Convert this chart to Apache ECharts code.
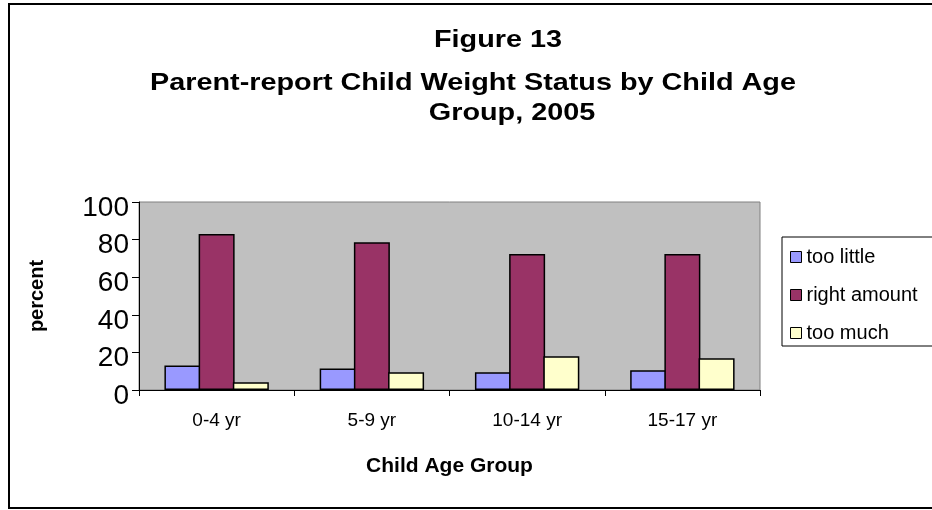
<!DOCTYPE html>
<html>
<head>
<meta charset="utf-8">
<script src="https://cdn.jsdelivr.net/npm/echarts@6/dist/echarts.min.js"></script>
<style>
  html, body { margin: 0; padding: 0; background: #fff; }
  #chart { width: 932px; height: 510px; }
</style>
</head>
<body>
<div id="chart"></div>
<script>
// ---- data ----
const titleLines = ['Figure 13', 'Parent-report Child Weight Status by Child Age', 'Group, 2005'];
const categories = ['0-4 yr', '5-9 yr', '10-14 yr', '15-17 yr'];
const seriesNames = ['too little', 'right amount', 'too much'];
const tooLittle = [13, 11.5, 9.4, 10.5];
const rightAmount = [83, 78.6, 72.3, 72.3];
const tooMuch = [4.1, 9.4, 17.9, 16.9];
const yTicks = { min: 0, max: 100, interval: 20 };
const xAxisName = 'Child Age Group';
const yAxisName = 'percent';

const colors = ['#9999FF', '#993366', '#FFFFCC'];
const FONT = '"Liberation Sans", Arial, Helvetica, sans-serif';

const chart = echarts.init(document.getElementById('chart'), null, { renderer: 'canvas' });

const titleCenters = [[498, 40.5], [473, 83.5], [512, 113.5]];

const option = {
  backgroundColor: '#ffffff',
  animation: false,
  graphic: [
    {
      type: 'rect',
      shape: { x: 9, y: 4, width: 960, height: 504 },
      style: { fill: 'none', stroke: '#000', lineWidth: 2 },
      silent: true,
      z: 100
    }
  ].concat(titleLines.map((t, i) => ({
    type: 'text',
    x: titleCenters[i][0],
    y: titleCenters[i][1],
    scaleX: 1.2,
    style: {
      text: t,
      x: 0, y: 0,
      textAlign: 'center',
      textVerticalAlign: 'middle',
      font: 'bold 24px ' + FONT,
      fill: '#000'
    }
  }))),
  legend: {
    data: seriesNames,
    orient: 'vertical',
    left: 782,
    top: 237,
    padding: [10, 20, 3, 8],
    itemGap: 18,
    itemWidth: 11,
    itemHeight: 11,
    icon: 'rect',
    borderColor: '#000',
    borderWidth: 1,
    backgroundColor: '#fff',
    itemStyle: { borderColor: '#000', borderWidth: 1 },
    textStyle: { fontFamily: FONT, fontSize: 20, color: '#000' }
  },
  grid: {
    left: 139,
    top: 202,
    width: 621,
    height: 188,
    show: true,
    backgroundColor: '#C0C0C0',
    borderColor: '#808080',
    borderWidth: 1
  },
  xAxis: {
    type: 'category',
    data: categories,
    name: xAxisName,
    nameLocation: 'middle',
    nameGap: 66,
    nameTextStyle: { fontFamily: FONT, fontSize: 21, fontWeight: 'bold', color: '#000' },
    axisLine: { lineStyle: { color: '#000', width: 1 } },
    axisTick: { show: true, alignWithLabel: false, length: 6, lineStyle: { color: '#000' } },
    axisLabel: { fontFamily: FONT, fontSize: 19, color: '#000', margin: 21 },
    splitLine: { show: false }
  },
  yAxis: {
    type: 'value',
    min: yTicks.min,
    max: yTicks.max,
    interval: yTicks.interval,
    name: yAxisName,
    nameLocation: 'middle',
    nameRotate: 90,
    nameGap: 92,
    nameTextStyle: { fontFamily: FONT, fontSize: 20, fontWeight: 'bold', color: '#000' },
    axisLine: { show: true, lineStyle: { color: '#000', width: 1 } },
    axisTick: { show: true, length: 7, lineStyle: { color: '#000' } },
    axisLabel: {
      margin: 10,
      formatter: '{v|{value}}',
      rich: { v: { fontFamily: FONT, fontSize: 28, color: '#000', padding: [12, 0, 0, 0] } }
    },
    splitLine: { show: false }
  },
  series: [
    { name: seriesNames[0], data: tooLittle },
    { name: seriesNames[1], data: rightAmount },
    { name: seriesNames[2], data: tooMuch }
  ].map((s, i) => ({
    type: 'bar',
    name: s.name,
    data: s.data,
    barWidth: 36,
    barGap: '-5%',
    itemStyle: { color: colors[i], borderColor: '#000', borderWidth: 1.5 }
  }))
};

chart.setOption(option);
</script>
</body>
</html>
